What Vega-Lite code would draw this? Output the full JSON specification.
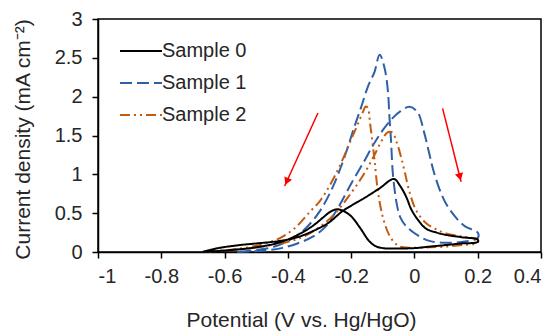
{
  "$schema": "https://vega.github.io/schema/vega-lite/v6.json",
  "width": 443,
  "height": 233,
  "autosize": {"type": "none"},
  "padding": {"left": 98, "top": 19, "right": 15, "bottom": 79},
  "background": "white",
  "view": {"stroke": "#000000", "strokeWidth": 1.5},
  "config": {
    "font": "Liberation Sans",
    "view": {"stroke": "#000000", "strokeWidth": 1.5},
    "axis": {
      "domainColor": "#000000", "domainWidth": 1.5, "tickColor": "#000000", "tickWidth": 1.5, "tickSize": 6,
      "grid": false, "labelFont": "Liberation Sans", "labelFontSize": 20, "labelColor": "#262626",
      "titleFont": "Liberation Sans", "titleFontSize": 21, "titleColor": "#262626", "titleFontWeight": "normal"
    },
    "legend": {
      "orient": "none", "legendX": 21, "legendY": 10, "padding": 0, "symbolType": "stroke",
      "symbolSize": 1764, "symbolStrokeWidth": 2, "labelFont": "Liberation Sans", "labelFontSize": 20,
      "labelColor": "#262626", "labelOffset": -1, "rowPadding": 0
    }
  },
  "datasets": {
    "curves": [
      {"sample": "Sample 1", "i": 0, "potential": -0.56, "current": 0},
      {"sample": "Sample 1", "i": 1, "potential": -0.47, "current": 0.02},
      {"sample": "Sample 1", "i": 2, "potential": -0.42, "current": 0.05},
      {"sample": "Sample 1", "i": 3, "potential": -0.37, "current": 0.11},
      {"sample": "Sample 1", "i": 4, "potential": -0.32, "current": 0.2},
      {"sample": "Sample 1", "i": 5, "potential": -0.28, "current": 0.33},
      {"sample": "Sample 1", "i": 6, "potential": -0.24, "current": 0.58},
      {"sample": "Sample 1", "i": 7, "potential": -0.2, "current": 0.88},
      {"sample": "Sample 1", "i": 8, "potential": -0.16, "current": 1.16},
      {"sample": "Sample 1", "i": 9, "potential": -0.13, "current": 1.38},
      {"sample": "Sample 1", "i": 10, "potential": -0.1, "current": 1.57},
      {"sample": "Sample 1", "i": 11, "potential": -0.07, "current": 1.72},
      {"sample": "Sample 1", "i": 12, "potential": -0.045, "current": 1.81},
      {"sample": "Sample 1", "i": 13, "potential": -0.016, "current": 1.87},
      {"sample": "Sample 1", "i": 14, "potential": 0.01, "current": 1.8},
      {"sample": "Sample 1", "i": 15, "potential": 0.03, "current": 1.55},
      {"sample": "Sample 1", "i": 16, "potential": 0.045, "current": 1.3},
      {"sample": "Sample 1", "i": 17, "potential": 0.06, "current": 1.05},
      {"sample": "Sample 1", "i": 18, "potential": 0.08, "current": 0.8},
      {"sample": "Sample 1", "i": 19, "potential": 0.1, "current": 0.62},
      {"sample": "Sample 1", "i": 20, "potential": 0.13, "current": 0.45},
      {"sample": "Sample 1", "i": 21, "potential": 0.16, "current": 0.33},
      {"sample": "Sample 1", "i": 22, "potential": 0.2, "current": 0.25},
      {"sample": "Sample 1", "i": 23, "potential": 0.2, "current": 0.18},
      {"sample": "Sample 1", "i": 24, "potential": 0.15, "current": 0.13},
      {"sample": "Sample 1", "i": 25, "potential": 0.1, "current": 0.12},
      {"sample": "Sample 1", "i": 26, "potential": 0.05, "current": 0.14},
      {"sample": "Sample 1", "i": 27, "potential": 0.016, "current": 0.2},
      {"sample": "Sample 1", "i": 28, "potential": -0.026, "current": 0.33},
      {"sample": "Sample 1", "i": 29, "potential": -0.045, "current": 0.45},
      {"sample": "Sample 1", "i": 30, "potential": -0.055, "current": 0.6},
      {"sample": "Sample 1", "i": 31, "potential": -0.068, "current": 1.0},
      {"sample": "Sample 1", "i": 32, "potential": -0.074, "current": 1.44},
      {"sample": "Sample 1", "i": 33, "potential": -0.079, "current": 1.74},
      {"sample": "Sample 1", "i": 34, "potential": -0.084, "current": 2.08},
      {"sample": "Sample 1", "i": 35, "potential": -0.095, "current": 2.38},
      {"sample": "Sample 1", "i": 36, "potential": -0.11, "current": 2.54},
      {"sample": "Sample 1", "i": 37, "potential": -0.126, "current": 2.32},
      {"sample": "Sample 1", "i": 38, "potential": -0.147, "current": 2.13},
      {"sample": "Sample 1", "i": 39, "potential": -0.168, "current": 1.87},
      {"sample": "Sample 1", "i": 40, "potential": -0.19, "current": 1.61},
      {"sample": "Sample 1", "i": 41, "potential": -0.205, "current": 1.42},
      {"sample": "Sample 1", "i": 42, "potential": -0.23, "current": 1.12},
      {"sample": "Sample 1", "i": 43, "potential": -0.26, "current": 0.82},
      {"sample": "Sample 1", "i": 44, "potential": -0.3, "current": 0.52},
      {"sample": "Sample 1", "i": 45, "potential": -0.35, "current": 0.28},
      {"sample": "Sample 1", "i": 46, "potential": -0.4, "current": 0.14},
      {"sample": "Sample 1", "i": 47, "potential": -0.45, "current": 0.06},
      {"sample": "Sample 1", "i": 48, "potential": -0.56, "current": 0},

      {"sample": "Sample 2", "i": 0, "potential": -0.67, "current": 0},
      {"sample": "Sample 2", "i": 1, "potential": -0.6, "current": 0.02},
      {"sample": "Sample 2", "i": 2, "potential": -0.52, "current": 0.05},
      {"sample": "Sample 2", "i": 3, "potential": -0.45, "current": 0.09},
      {"sample": "Sample 2", "i": 4, "potential": -0.4, "current": 0.13},
      {"sample": "Sample 2", "i": 5, "potential": -0.35, "current": 0.2},
      {"sample": "Sample 2", "i": 6, "potential": -0.3, "current": 0.32},
      {"sample": "Sample 2", "i": 7, "potential": -0.25, "current": 0.5},
      {"sample": "Sample 2", "i": 8, "potential": -0.2, "current": 0.76},
      {"sample": "Sample 2", "i": 9, "potential": -0.16, "current": 1.0},
      {"sample": "Sample 2", "i": 10, "potential": -0.13, "current": 1.22},
      {"sample": "Sample 2", "i": 11, "potential": -0.105, "current": 1.42},
      {"sample": "Sample 2", "i": 12, "potential": -0.085, "current": 1.54},
      {"sample": "Sample 2", "i": 13, "potential": -0.07, "current": 1.54},
      {"sample": "Sample 2", "i": 14, "potential": -0.055, "current": 1.4},
      {"sample": "Sample 2", "i": 15, "potential": -0.042, "current": 1.22},
      {"sample": "Sample 2", "i": 16, "potential": -0.03, "current": 1.02},
      {"sample": "Sample 2", "i": 17, "potential": -0.016, "current": 0.78},
      {"sample": "Sample 2", "i": 18, "potential": 0.005, "current": 0.54},
      {"sample": "Sample 2", "i": 19, "potential": 0.037, "current": 0.37},
      {"sample": "Sample 2", "i": 20, "potential": 0.07, "current": 0.29},
      {"sample": "Sample 2", "i": 21, "potential": 0.1, "current": 0.24},
      {"sample": "Sample 2", "i": 22, "potential": 0.15, "current": 0.2},
      {"sample": "Sample 2", "i": 23, "potential": 0.2, "current": 0.16},
      {"sample": "Sample 2", "i": 24, "potential": 0.2, "current": 0.12},
      {"sample": "Sample 2", "i": 25, "potential": 0.15, "current": 0.09},
      {"sample": "Sample 2", "i": 26, "potential": 0.1, "current": 0.07},
      {"sample": "Sample 2", "i": 27, "potential": 0.047, "current": 0.06},
      {"sample": "Sample 2", "i": 28, "potential": -0.01, "current": 0.055},
      {"sample": "Sample 2", "i": 29, "potential": -0.047, "current": 0.07},
      {"sample": "Sample 2", "i": 30, "potential": -0.065, "current": 0.13},
      {"sample": "Sample 2", "i": 31, "potential": -0.08, "current": 0.22},
      {"sample": "Sample 2", "i": 32, "potential": -0.1, "current": 0.45},
      {"sample": "Sample 2", "i": 33, "potential": -0.116, "current": 0.8},
      {"sample": "Sample 2", "i": 34, "potential": -0.126, "current": 1.18},
      {"sample": "Sample 2", "i": 35, "potential": -0.133, "current": 1.42},
      {"sample": "Sample 2", "i": 36, "potential": -0.14, "current": 1.65},
      {"sample": "Sample 2", "i": 37, "potential": -0.148, "current": 1.86},
      {"sample": "Sample 2", "i": 38, "potential": -0.155, "current": 1.87},
      {"sample": "Sample 2", "i": 39, "potential": -0.163, "current": 1.8},
      {"sample": "Sample 2", "i": 40, "potential": -0.184, "current": 1.6},
      {"sample": "Sample 2", "i": 41, "potential": -0.205, "current": 1.4},
      {"sample": "Sample 2", "i": 42, "potential": -0.237, "current": 1.1},
      {"sample": "Sample 2", "i": 43, "potential": -0.27, "current": 0.84},
      {"sample": "Sample 2", "i": 44, "potential": -0.3, "current": 0.65},
      {"sample": "Sample 2", "i": 45, "potential": -0.33, "current": 0.52},
      {"sample": "Sample 2", "i": 46, "potential": -0.38, "current": 0.3},
      {"sample": "Sample 2", "i": 47, "potential": -0.43, "current": 0.17},
      {"sample": "Sample 2", "i": 48, "potential": -0.5, "current": 0.08},
      {"sample": "Sample 2", "i": 49, "potential": -0.58, "current": 0.03},
      {"sample": "Sample 2", "i": 50, "potential": -0.67, "current": 0},

      {"sample": "Sample 0", "i": 0, "potential": -0.67, "current": 0},
      {"sample": "Sample 0", "i": 1, "potential": -0.62, "current": 0.05},
      {"sample": "Sample 0", "i": 2, "potential": -0.55, "current": 0.09},
      {"sample": "Sample 0", "i": 3, "potential": -0.5, "current": 0.11},
      {"sample": "Sample 0", "i": 4, "potential": -0.43, "current": 0.14},
      {"sample": "Sample 0", "i": 5, "potential": -0.37, "current": 0.19},
      {"sample": "Sample 0", "i": 6, "potential": -0.31, "current": 0.29},
      {"sample": "Sample 0", "i": 7, "potential": -0.27, "current": 0.38},
      {"sample": "Sample 0", "i": 8, "potential": -0.226, "current": 0.53},
      {"sample": "Sample 0", "i": 9, "potential": -0.16, "current": 0.69},
      {"sample": "Sample 0", "i": 10, "potential": -0.11, "current": 0.82},
      {"sample": "Sample 0", "i": 11, "potential": -0.065, "current": 0.94},
      {"sample": "Sample 0", "i": 12, "potential": -0.045, "current": 0.85},
      {"sample": "Sample 0", "i": 13, "potential": -0.026, "current": 0.71},
      {"sample": "Sample 0", "i": 14, "potential": -0.01, "current": 0.55},
      {"sample": "Sample 0", "i": 15, "potential": 0.01, "current": 0.42},
      {"sample": "Sample 0", "i": 16, "potential": 0.037, "current": 0.3},
      {"sample": "Sample 0", "i": 17, "potential": 0.07, "current": 0.25},
      {"sample": "Sample 0", "i": 18, "potential": 0.1, "current": 0.22},
      {"sample": "Sample 0", "i": 19, "potential": 0.15, "current": 0.19},
      {"sample": "Sample 0", "i": 20, "potential": 0.2, "current": 0.16},
      {"sample": "Sample 0", "i": 21, "potential": 0.2, "current": 0.13},
      {"sample": "Sample 0", "i": 22, "potential": 0.15, "current": 0.11},
      {"sample": "Sample 0", "i": 23, "potential": 0.1, "current": 0.09},
      {"sample": "Sample 0", "i": 24, "potential": 0.05, "current": 0.07},
      {"sample": "Sample 0", "i": 25, "potential": 0, "current": 0.05},
      {"sample": "Sample 0", "i": 26, "potential": -0.06, "current": 0.045},
      {"sample": "Sample 0", "i": 27, "potential": -0.1, "current": 0.05},
      {"sample": "Sample 0", "i": 28, "potential": -0.125, "current": 0.08},
      {"sample": "Sample 0", "i": 29, "potential": -0.145, "current": 0.15},
      {"sample": "Sample 0", "i": 30, "potential": -0.17, "current": 0.3},
      {"sample": "Sample 0", "i": 31, "potential": -0.2, "current": 0.46},
      {"sample": "Sample 0", "i": 32, "potential": -0.225, "current": 0.53},
      {"sample": "Sample 0", "i": 33, "potential": -0.245, "current": 0.55},
      {"sample": "Sample 0", "i": 34, "potential": -0.265, "current": 0.52},
      {"sample": "Sample 0", "i": 35, "potential": -0.29, "current": 0.44},
      {"sample": "Sample 0", "i": 36, "potential": -0.32, "current": 0.34},
      {"sample": "Sample 0", "i": 37, "potential": -0.36, "current": 0.24},
      {"sample": "Sample 0", "i": 38, "potential": -0.42, "current": 0.13},
      {"sample": "Sample 0", "i": 39, "potential": -0.5, "current": 0.06},
      {"sample": "Sample 0", "i": 40, "potential": -0.58, "current": 0.025},
      {"sample": "Sample 0", "i": 41, "potential": -0.67, "current": 0}
    ],
    "arrows": [
      {"side": "left", "potential": -0.305, "current": 1.79, "potential2": -0.41, "current2": 0.85},
      {"side": "right", "potential": 0.089, "current": 1.85, "potential2": 0.1475, "current2": 0.905}
    ],
    "heads": [
      {"side": "left", "potential": -0.4035, "current": 0.909},
      {"side": "right", "potential": 0.1437, "current": 0.967}
    ]
  },
  "encoding": {
    "x": {
      "field": "potential", "type": "quantitative",
      "scale": {"domain": [-1, 0.4], "nice": false, "zero": false},
      "axis": {
        "values": [-1, -0.8, -0.6, -0.4, -0.2, 0, 0.2, 0.4],
        "labelExpr": "toString(datum.value)", "labelPadding": 8, "labelOverlap": false,
        "title": "Potential (V vs. Hg/HgO)", "titleX": 203, "titleY": 68,
        "titleAlign": "center", "titleBaseline": "middle"
      }
    },
    "y": {
      "field": "current", "type": "quantitative",
      "scale": {"domain": [0, 3], "nice": false},
      "axis": {
        "values": [0, 0.5, 1, 1.5, 2, 2.5, 3],
        "labelExpr": "toString(datum.value)", "labelPadding": 10, "labelOverlap": false,
        "title": "Current density (mA cm⁻²)", "titleX": -75, "titleY": 120,
        "titleAlign": "center", "titleBaseline": "middle", "titleAngle": -90
      }
    }
  },
  "layer": [
    {
      "data": {"name": "curves"},
      "mark": {"type": "line", "interpolate": "catmull-rom", "strokeWidth": 2},
      "encoding": {
        "color": {
          "field": "sample", "type": "nominal",
          "scale": {"domain": ["Sample 0", "Sample 1", "Sample 2"], "range": ["#000000", "#2F5FA7", "#C55A11"]},
          "legend": {"title": null}
        },
        "strokeDash": {
          "field": "sample", "type": "nominal",
          "scale": {"domain": ["Sample 0", "Sample 1", "Sample 2"], "range": [[1, 0], [12, 5], [10, 4, 2, 4, 2, 4]]},
          "legend": {"title": null}
        },
        "order": {"field": "i", "type": "quantitative"}
      }
    },
    {
      "data": {"name": "arrows"},
      "mark": {"type": "rule", "color": "#FF0000", "strokeWidth": 1.5},
      "encoding": {
        "x2": {"field": "potential2"},
        "y2": {"field": "current2"}
      }
    },
    {
      "data": {"name": "heads"},
      "transform": [{"filter": "datum.side == 'left'"}],
      "mark": {"type": "point", "shape": "triangle-down", "filled": true, "color": "#FF0000", "size": 70, "angle": 24, "opacity": 1}
    },
    {
      "data": {"name": "heads"},
      "transform": [{"filter": "datum.side == 'right'"}],
      "mark": {"type": "point", "shape": "triangle-down", "filled": true, "color": "#FF0000", "size": 70, "angle": -14, "opacity": 1}
    }
  ]
}
